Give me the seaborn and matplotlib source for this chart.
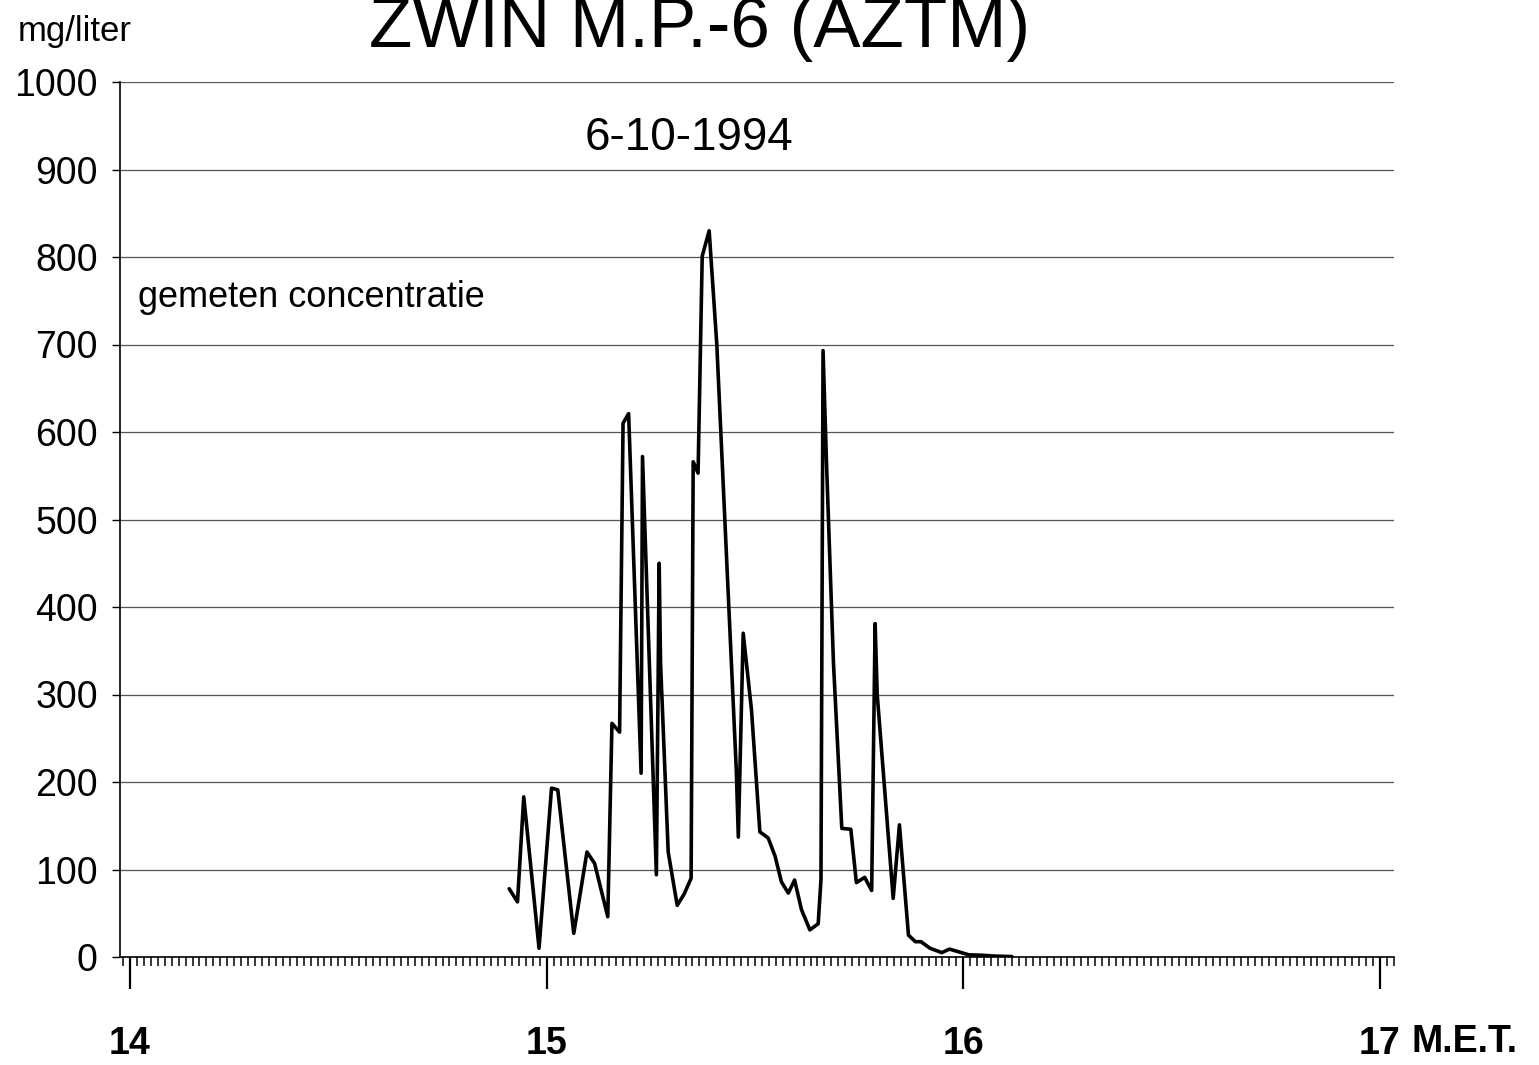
import matplotlib
matplotlib.use("Agg")
import matplotlib.pyplot as plt
from matplotlib.ticker import MultipleLocator, FixedLocator
import seaborn as sns
import pandas as pd

# Time of measurement, minutes after 14:00 (M.E.T.)
minutes = [54.6, 55.8, 56.7, 58.9, 60.7, 61.6, 63.9, 65.8, 66.9, 68.8,
           69.4, 70.5, 71.0, 71.8, 73.6, 73.8, 75.8, 76.2, 76.4, 77.5,
           78.8, 79.8, 80.8, 81.1, 81.8, 82.4, 83.4, 84.5, 87.3, 87.6,
           88.3, 89.5, 90.7, 91.9, 92.9, 93.8, 94.8, 95.7, 96.7, 97.9,
           99.1, 99.5, 99.8, 100.3, 101.3, 102.5, 103.8, 104.6, 105.8, 106.8,
           107.3, 107.6, 109.9, 110.8, 112.1, 113.1, 113.9, 115.2, 116.9, 118.0,
           119.3, 120.8, 122.7, 124.6, 127.0]
# Measured concentration (mg/liter)
concentration = [78, 63, 183, 10, 193, 191, 27, 120, 107, 46,
                 267, 257, 610, 621, 210, 572, 94, 450, 336, 120,
                 59, 72, 90, 566, 553, 801, 830, 700, 215, 137,
                 370, 282, 143, 136, 115, 86, 73, 88, 54, 31,
                 38, 88, 693, 564, 336, 147, 146, 85, 91, 76,
                 381, 300, 67, 151, 25, 17.5, 17.5, 10, 5, 9,
                 6, 2.5, 2, 1, 0.5]

hour_ticks = [14, 15, 16, 17]
hour_labels = ["14", "15", "16", "17"]
y_ticks = list(range(0, 1001, 100))

title = "ZWIN M.P.-6 (AZTM)"
date_text = "6-10-1994"
series_text = "gemeten concentratie"
y_unit = "mg/liter"
x_unit = "M.E.T."

df = pd.DataFrame({"time": [14 + m / 60 for m in minutes],
                   "conc": concentration})

sns.set_style("ticks")
plt.rcParams["font.family"] = ["Liberation Sans", "DejaVu Sans"]
plt.rcParams["text.color"] = "black"
plt.rcParams["xtick.color"] = "black"
plt.rcParams["ytick.color"] = "black"
plt.rcParams["axes.labelcolor"] = "black"

fig = plt.figure(figsize=(15.39, 10.65), dpi=100)
ax = fig.add_axes([120 / 1539, 1 - 957 / 1065, 1274 / 1539, 875 / 1065])

sns.lineplot(data=df, x="time", y="conc", ax=ax, color="black",
             linewidth=2.6, estimator=None, sort=False)

ax.set_xlim(14 - 10 / 415.7, 17 + 14 / 415.7)
ax.set_ylim(0, 1000)

ax.xaxis.set_major_locator(FixedLocator(hour_ticks))
ax.set_xticks(hour_ticks)
ax.set_xticklabels(hour_labels, fontsize=27, fontweight="bold", color="black")
ax.xaxis.set_minor_locator(MultipleLocator(1 / 60))
ax.tick_params(axis="x", which="major", direction="out", length=23, width=1.6,
               pad=27, color="black")
ax.tick_params(axis="x", which="minor", direction="out", length=6.5, width=1.1,
               color="black")

ax.set_yticks(y_ticks)
ax.set_yticklabels([str(v) for v in y_ticks], fontsize=27, color="black")
ax.tick_params(axis="y", which="major", direction="out", length=6, width=1.0,
               pad=10, color="black")

ax.grid(axis="y", color="#555555", linewidth=0.9)
ax.grid(axis="x", visible=False)
ax.set_axisbelow(True)

for s in ["top", "right"]:
    ax.spines[s].set_visible(False)
ax.spines["left"].set_linewidth(1.2)
ax.spines["bottom"].set_linewidth(1.2)
ax.spines["left"].set_color("black")
ax.spines["bottom"].set_color("black")

ax.set_xlabel("")
ax.set_ylabel("")

ax.text(15.342, 936, date_text, ha="center", va="center", fontsize=33,
        color="black")
ax.text(14.019, 754, series_text, ha="left", va="center", fontsize=26,
        color="black")

fig.text(700 / 1539, 1 - 47 / 1065, title, ha="center", va="baseline",
         fontsize=51, color="black")
fig.text(18 / 1539, 1 - 32 / 1065, y_unit, ha="left", va="center", fontsize=25,
         color="black")
fig.text(1412 / 1539, 1 - 1052 / 1065, x_unit, ha="left", va="baseline",
         fontsize=27, fontweight="bold", color="black")

fig.savefig("out.png", dpi=100)
